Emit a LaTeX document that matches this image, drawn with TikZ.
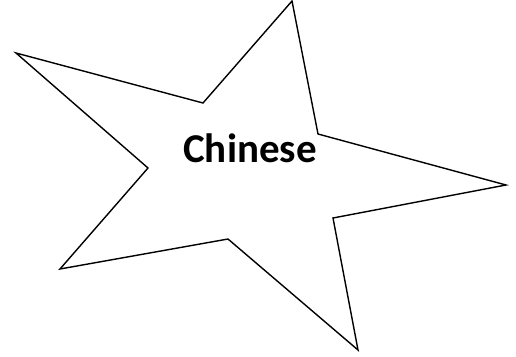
\documentclass[tikz,border=0pt]{standalone}
\usepackage{fontspec}
\setmainfont{Carlito}
\begin{document}
\begin{tikzpicture}[x=1pt,y=-1pt,
  starline/.style={draw=black,line width=1.4pt,line join=miter,fill=white},
  lbl/.style={font=\fontsize{41}{48}\selectfont\bfseries,inner sep=0pt,anchor=base}]
\useasboundingbox (0,0) rectangle (516,356);
\coordinate (p1) at (292,1);
\coordinate (q1) at (318,134);
\coordinate (p2) at (506,185);
\coordinate (q2) at (333,218);
\coordinate (p3) at (358,350);
\coordinate (q3) at (228,239);
\coordinate (p4) at (60,269);
\coordinate (q4) at (148,168);
\coordinate (p5) at (16,53);
\coordinate (q5) at (203,103);
\draw[starline] (p1) -- (q1) -- (p2) -- (q2) -- (p3) -- (q3) -- (p4) -- (q4) -- (p5) -- (q5) -- cycle;
\node[lbl] (t) at (250,162) {Chinese};
\end{tikzpicture}
\end{document}
